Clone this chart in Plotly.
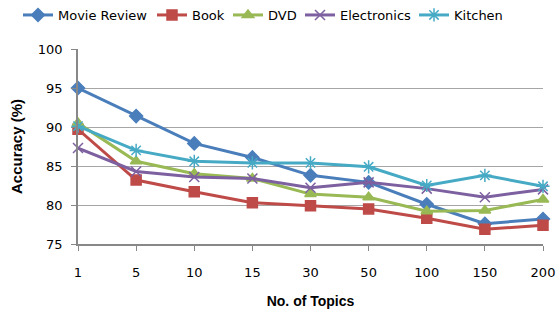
import plotly.graph_objects as go

topics = ["1", "5", "10", "15", "30", "50", "100", "150", "200"]
movie_review = [95.0, 91.4, 87.9, 86.1, 83.8, 82.9, 80.1, 77.6, 78.2]
book = [89.7, 83.2, 81.7, 80.3, 79.9, 79.5, 78.3, 76.9, 77.4]
dvd = [90.5, 85.6, 84.0, 83.4, 81.4, 81.0, 79.2, 79.3, 80.7]
electronics = [87.3, 84.3, 83.6, 83.4, 82.2, 82.9, 82.1, 81.0, 82.0]
kitchen = [90.1, 87.0, 85.6, 85.4, 85.4, 84.9, 82.5, 83.8, 82.4]

series = [
    ("Movie Review", movie_review, "#4a7ebb", "diamond", 10),
    ("Book", book, "#be4b48", "square", 10),
    ("DVD", dvd, "#98b954", "triangle-up", 10),
    ("Electronics", electronics, "#7d60a0", "x-thin-open", 10),
    ("Kitchen", kitchen, "#46aac5", "asterisk-open", 11),
]
legend_x_px = [18, 152, 228, 300, 414]

W, H = 558, 314
fig = go.Figure()
legend_names = ["legend"] + [f"legend{i}" for i in range(2, 6)]
for (name, vals, color, sym, size), lg in zip(series, legend_names):
    fig.add_trace(go.Scatter(
        x=topics, y=vals, name=name, mode="lines+markers",
        line=dict(color=color, width=3),
        marker=dict(symbol=sym, size=size, color=color,
                    line=dict(color=color, width=1.5)),
        cliponaxis=False, legend=lg,
    ))

legend_font = dict(family="DejaVu Sans, sans-serif", size=13, color="#000000")
for lg, px in zip(legend_names, legend_x_px):
    fig.update_layout({lg: dict(orientation="h", x=px / W, xanchor="left", xref="container",
                                y=1.0, yanchor="top", yref="container",
                                font=legend_font, itemwidth=30,
                                bgcolor="rgba(0,0,0,0)")})

tick_font = dict(family="DejaVu Sans, sans-serif", size=13, color="#000000")
fig.update_layout(
    width=W, height=H,
    margin=dict(l=78, r=15, t=49, b=70, autoexpand=False),
    paper_bgcolor="white", plot_bgcolor="white",
    font=tick_font,
    showlegend=True,
    xaxis=dict(type="category", range=[0, 8], showgrid=False, automargin=False,
               showline=True, linecolor="#888888", linewidth=1.5,
               ticks="outside", ticklen=5, tickcolor="#888888",
               ticklabelstandoff=11, tickfont=tick_font,
               title=dict(text="<b>No. of Topics</b>",
                          font=dict(family="Liberation Sans, Arial, sans-serif", size=14, color="#000000"),
                          standoff=17)),
    yaxis=dict(range=[75, 100], dtick=5, showgrid=True, gridcolor="#a6a6a6",
               gridwidth=1, showline=True, linecolor="#888888", linewidth=1.5,
               ticks="outside", ticklen=5, tickcolor="#888888", zeroline=False,
               automargin=False, ticklabelstandoff=6, tickfont=tick_font,
               title=dict(text="<b>Accuracy (%)</b>",
                          font=dict(family="Liberation Sans, Arial, sans-serif", size=15, color="#000000"),
                          standoff=12)),
)

fig.write_html("out.html", config={"displayModeBar": False},
               post_script="document.body.style.margin='0';")
